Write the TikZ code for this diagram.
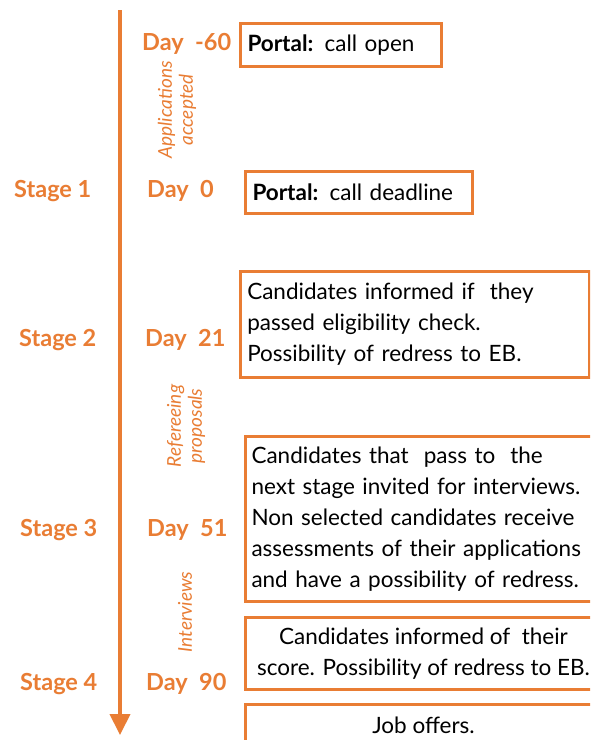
\documentclass[tikz,border=0pt]{standalone}
\usepackage{fontspec}
\setmainfont{Lato}
\usetikzlibrary{arrows.meta}
\definecolor{acc}{RGB}{233,125,52}
\begin{document}
\begin{tikzpicture}[x=1pt,y=-1pt,
  lbl/.style={text=acc,font=\fontsize{23.5}{28}\selectfont\bfseries,inner sep=0pt},
  note/.style={text=acc,font=\fontsize{19}{21}\selectfont\itshape,rotate=90,align=center,inner sep=0pt},
  bx/.style={draw=acc,line width=3pt,inner ysep=0pt,inner xsep=7pt,anchor=north west,
             font=\fontsize{22.5}{31}\selectfont},
  tl/.style={draw=acc,line width=4pt,-{Triangle[width=20pt,length=21pt]}}]
\useasboundingbox (0,0) rectangle (590,740);
\clip (0,0) rectangle (590,740);
\fill[white] (0,0) rectangle (590,740);
% timeline
\coordinate (ttop) at (120,10);
\coordinate (tbot) at (120,735);
\draw[tl] (ttop) -- (tbot);
% stage labels
\node[lbl,anchor=west] (s1) at (14,191) {Stage 1};
\node[lbl,anchor=west] (s2) at (19,340) {Stage 2};
\node[lbl,anchor=west] (s3) at (20,530) {Stage 3};
\node[lbl,anchor=west] (s4) at (20,684) {Stage 4};
% day labels
\node[lbl,anchor=west] (d0) at (142,44) {Day\ \ -60};
\node[lbl,anchor=west] (d1) at (147,191) {Day\ \ 0};
\node[lbl,anchor=west] (d2) at (145,340) {Day\ \ 21};
\node[lbl,anchor=west] (d3) at (147,530) {Day\ \ 51};
\node[lbl,anchor=west] (d4) at (146,684) {Day\ \ 90};
% rotated notes
\node[note] (n1) at (177,110) {Applications\\accepted};
\node[note] (n2) at (186,426) {Refereeing\\proposals};
\node[note] (n3) at (185,612) {Interviews};
% boxes
\node[bx,minimum height=43pt,text width=187pt,align=left] (b1) at (239,22)
  {\textbf{Portal:} call open};
\node[bx,minimum height=42pt,text width=213pt,align=left] (b2) at (244,170)
  {\textbf{Portal:} call deadline};
\node[bx,line width=2.5pt,minimum height=106pt,text width=335pt,align=left] (b3) at (239,270)
  {Candidates informed if\ \ they\\passed eligibility check.\\Possibility of redress to EB.};
\node[bx,minimum height=165pt,text width=380pt,align=left,inner xsep=6pt] (b4) at (244,435)
  {Candidates that\ \ pass to\ \ the\\next stage invited for interviews.\\Non selected candidates receive\\assessments of their applications\\and have a possibility of redress.};
\node[bx,minimum height=72pt,minimum width=356pt,align=center,inner xsep=0pt] (b5) at (244,616)
  {Candidates informed of\ \ their\\score. Possibility of redress to EB.};
\node[bx,minimum height=42pt,minimum width=356pt,align=center,inner xsep=0pt] (b6) at (244,703)
  {Job offers.};
\end{tikzpicture}
\end{document}
